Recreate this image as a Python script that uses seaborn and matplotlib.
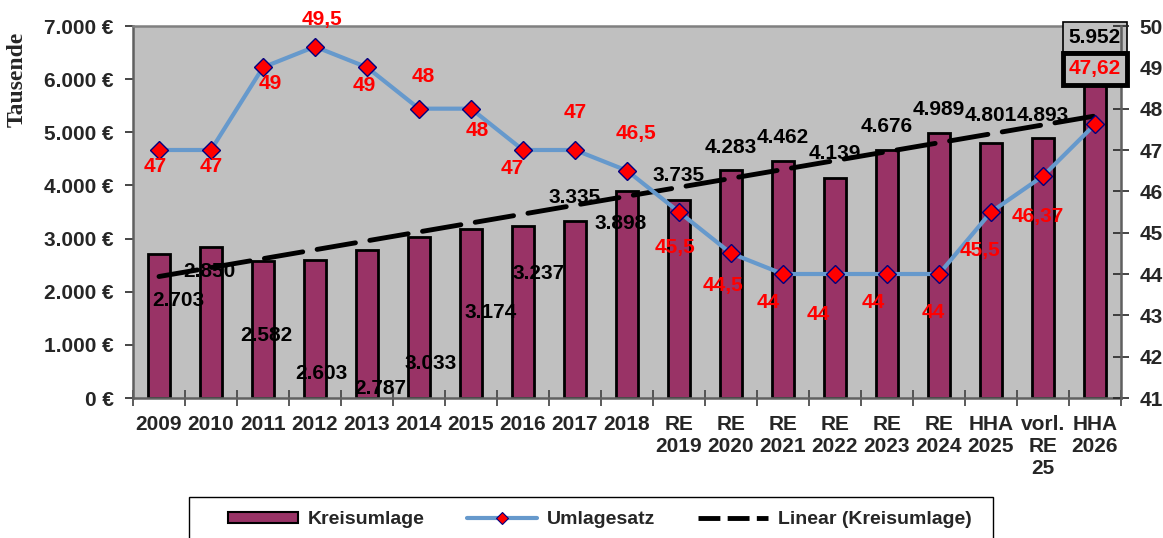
import matplotlib
matplotlib.use("Agg")
import matplotlib.pyplot as plt
import numpy as np
import seaborn as sns
from matplotlib.lines import Line2D
from matplotlib.patches import Patch, Rectangle
from matplotlib.ticker import FixedLocator, FuncFormatter

# data
categories = ["2009", "2010", "2011", "2012", "2013", "2014", "2015", "2016", "2017", "2018",
              "RE\n2019", "RE\n2020", "RE\n2021", "RE\n2022", "RE\n2023", "RE\n2024",
              "HHA\n2025", "vorl.\nRE\n25", "HHA\n2026"]
kreisumlage = [2703, 2850, 2582, 2603, 2787, 3033, 3174, 3237, 3335, 3898,
               3735, 4283, 4462, 4139, 4676, 4989, 4801, 4893, 5952]
umlagesatz = [47, 47, 49, 49.5, 49, 48, 48, 47, 47, 46.5,
              45.5, 44.5, 44, 44, 44, 44, 45.5, 46.37, 47.62]

# where the data labels sit (Excel moved them around by hand)
bar_label_dx = [0.38, -0.04, 0.06, 0.13, 0.25, 0.23, 0.38, 0.29, 0, -0.12,
                0, 0, 0, 0, 0, 0, 0, 0, 0]
bar_label_y = [1844, 2371, 1167, 470, 188, 640, 1600, 2352, 3782, 3293,
               4178, 4723, 4911, 4592, 5118, 5420, 5325, 5325, 6793]
rate_label_dx = [-0.08, 0, 0.13, 0.13, -0.06, 0.08, 0.12, -0.21, 0, 0.17,
                 -0.08, -0.15, -0.29, -0.33, -0.27, -0.12, -0.21, -0.1, 0]
rate_label_y = [46.59, 46.61, 48.62, 50.15, 48.57, 48.79, 47.46, 46.56, 47.90, 47.41,
                44.63, 43.71, 43.30, 43.01, 43.30, 43.08, 44.58, 45.38, 48.96]

bar_color = "#993366"
line_color = "#6699CC"
fs = 15

sns.set_style("ticks")
plt.rcParams["font.family"] = ["Liberation Sans", "DejaVu Sans"]
plt.rcParams["font.weight"] = "bold"

fig = plt.figure(figsize=(11.63, 5.38), dpi=100)
ax = fig.add_axes([133 / 1163, 1 - 398 / 538, 988 / 1163, 372 / 538])
ax.set_facecolor("#C0C0C0")

sns.barplot(x=categories, y=kreisumlage, color=bar_color, saturation=1, width=0.42,
            edgecolor="black", linewidth=2, ax=ax)

xs = np.arange(len(categories))
slope, intercept = np.polyfit(xs, kreisumlage, 1)
ax.plot(xs, slope * xs + intercept, color="black", linewidth=3.5, dashes=(8, 3),
        dash_capstyle="round", zorder=2)

ax.set_xlim(-0.5, len(categories) - 0.5)
ax.set_ylim(0, 7000)
ax.set_xlabel("")
ax.set_ylabel("")

for i, v in enumerate(kreisumlage):
    ax.text(i + bar_label_dx[i], bar_label_y[i], f"{v:,}".replace(",", "."),
            ha="center", va="center", fontsize=fs, fontweight="bold", color="black",
            zorder=4)

ax2 = ax.twinx()
sns.lineplot(x=xs, y=umlagesatz, ax=ax2, color=line_color, linewidth=3,
             marker="D", markersize=9, markerfacecolor="red",
             markeredgecolor="#000080", markeredgewidth=1)
ax2.set_ylim(41, 50)
ax2.set_yticks(range(41, 51))

for i, v in enumerate(umlagesatz):
    txt = f"{v:g}".replace(".", ",")
    box = None
    if i == len(umlagesatz) - 1:
        box = dict(boxstyle="square,pad=0.3", facecolor="#C0C0C0", edgecolor="black",
                   linewidth=3.5)
    ax2.text(i + rate_label_dx[i], rate_label_y[i], txt, ha="center", va="center",
             fontsize=fs, fontweight="bold", color="red", bbox=box, clip_on=False)

# boxed bar label for HHA 2026
last = ax.texts[-1]
last.set_bbox(dict(boxstyle="square,pad=0.28", facecolor="#C0C0C0", edgecolor="black",
                   linewidth=1.2))
last.set_clip_on(False)

# axes styling
money = FuncFormatter(lambda v, p: f"{v:,.0f} €".replace(",", "."))
ax.yaxis.set_major_formatter(money)
ax.tick_params(axis="y", length=6, width=1.2, direction="out", labelsize=fs, pad=8)
ax.tick_params(axis="x", which="major", length=0, labelsize=fs, pad=12)
ax.xaxis.set_minor_locator(FixedLocator(np.arange(-0.5, len(categories), 1)))
ax.tick_params(axis="x", which="minor", length=11, width=1.2, direction="inout",
               color="#404040")
for t in ax.get_xticklabels():
    t.set_linespacing(1.2)
    t.set_fontweight("bold")
for t in ax.get_yticklabels():
    t.set_fontweight("bold")

ax2.tick_params(axis="y", length=11, width=1.2, direction="inout", labelsize=fs, pad=8)
for t in ax2.get_yticklabels():
    t.set_fontweight("bold")

for name, sp in ax.spines.items():
    sp.set_visible(True)
    sp.set_linewidth(1.8)
    sp.set_color("#606060")
ax.spines["top"].set_color("#808080")
ax.spines["right"].set_visible(False)
for name in ["left", "top", "bottom"]:
    ax2.spines[name].set_visible(False)
ax2.spines["right"].set_linewidth(1.8)
ax2.spines["right"].set_color("#606060")

fig.text(17 / 1163, 1 - 79 / 538, "Tausende", rotation=90, ha="center", va="center",
         fontsize=17, fontweight="bold", family=["Liberation Serif", "DejaVu Serif"])

# legend: frame drawn separately, it runs off the bottom of the picture
fig.patches.append(Rectangle((189 / 1163, -0.05), 804 / 1163, 0.05 + (538 - 497) / 538,
                             transform=fig.transFigure, facecolor="white",
                             edgecolor="black", linewidth=1.0))
handles = [
    Patch(facecolor=bar_color, edgecolor="black", linewidth=1.5),
    Line2D([], [], color=line_color, linewidth=3, marker="D", markersize=6,
           markerfacecolor="red", markeredgecolor="#000080", markeredgewidth=0.8),
    Line2D([], [], color="black", linewidth=3.5, dashes=(4.5, 1.5)),
]
labels = ["Kreisumlage", "Umlagesatz", "Linear (Kreisumlage)"]
fig.legend(handles, labels, loc="center left",
           bbox_to_anchor=(228 / 1163, 1 - 520 / 538), ncol=3, frameon=False,
           prop={"family": ["Liberation Sans", "DejaVu Sans"], "weight": "bold",
                 "size": 14},
           handlelength=3.6, handleheight=0.55, columnspacing=2.2,
           handletextpad=0.5, borderpad=0, borderaxespad=0)

fig.savefig("out.png", dpi=100, facecolor="white")
